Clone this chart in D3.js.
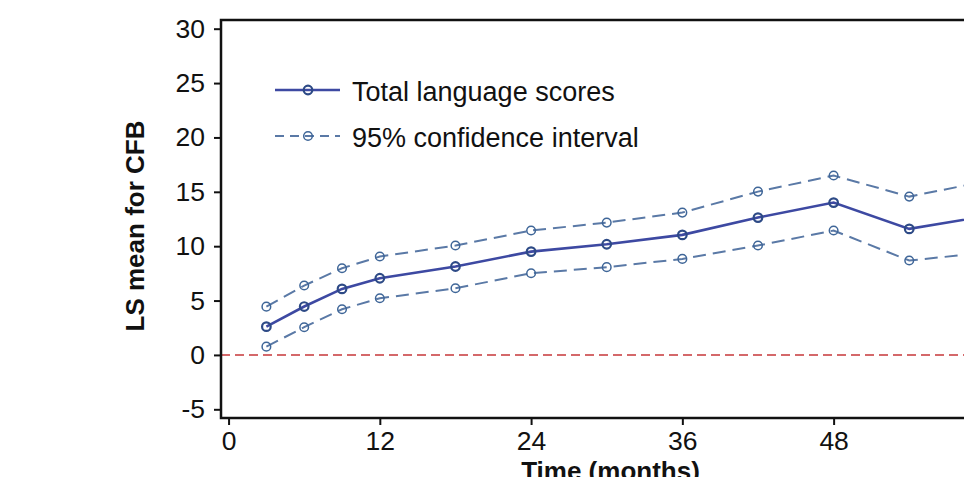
<!DOCTYPE html>
<html>
<head>
<meta charset="utf-8">
<script src="https://cdn.jsdelivr.net/npm/d3@7/dist/d3.min.js"></script>
<style>
  html, body { margin: 0; padding: 0; background: #fff; overflow: hidden; }
  svg { display: block; font-family: "Liberation Sans", Arial, sans-serif; }
</style>
</head>
<body>
<svg id="chart" width="964" height="477"></svg>
<script>
// Visit times (months) and LS mean change from baseline
const months = [3, 6, 9, 12, 18, 24, 30, 36, 42, 48, 54, 60];
const lsMean = [2.6, 4.45, 6.07, 7.05, 8.13, 9.5, 10.18, 11.04, 12.63, 14.01, 11.59, 12.75];
const ciUpper = [4.44, 6.38, 7.97, 9.05, 10.06, 11.44, 12.17, 13.09, 15.02, 16.5, 14.56, 15.95];
const ciLower = [0.76, 2.55, 4.2, 5.21, 6.13, 7.51, 8.07, 8.83, 10.06, 11.44, 8.68, 9.4];
const xTicks = [0, 12, 24, 36, 48, 60];
const yTicks = [-5, 0, 5, 10, 15, 20, 25, 30];
const legendLabels = ["Total language scores", "95% confidence interval"];

const svg = d3.select("#chart");
const plot = { left: 221, top: 20, right: 1000, bottom: 418 };

const x = d3.scaleLinear().domain([-0.6, 61.2]).range([plot.left, plot.right]);
const y = d3.scaleLinear().domain([-5.8, 30.8]).range([plot.bottom, plot.top]);

const mainColor = "#3d49a2";
const markerColor = "#2d4a86";
const ciColor = "#5a79a6";
const textColor = "#111";
const fontFamily = "'Liberation Sans', Arial, sans-serif";

// Zero reference line
svg.append("line")
  .attr("x1", plot.left).attr("x2", plot.right)
  .attr("y1", y(0)).attr("y2", y(0))
  .attr("stroke", "#d4686a").attr("stroke-width", 2)
  .attr("stroke-dasharray", "9,5");

const line = d3.line().x(d => x(d[0])).y(d => y(d[1]));

function series(values, opts) {
  const pts = months.map((m, i) => [m, values[i]]);
  svg.append("path")
    .datum(pts)
    .attr("d", line)
    .attr("fill", "none")
    .attr("stroke", opts.color)
    .attr("stroke-width", opts.width)
    .attr("stroke-dasharray", opts.dash || null);
  svg.append("g").selectAll("circle")
    .data(pts).join("circle")
    .attr("cx", d => x(d[0])).attr("cy", d => y(d[1]))
    .attr("r", opts.r)
    .attr("fill", "none")
    .attr("stroke", opts.markerColor)
    .attr("stroke-width", opts.markerWidth);
}

series(ciUpper, { color: ciColor, width: 2, dash: "13,7", r: 4.3, markerColor: "#3f6698", markerWidth: 1.5 });
series(ciLower, { color: ciColor, width: 2, dash: "13,7", r: 4.3, markerColor: "#3f6698", markerWidth: 1.5 });
series(lsMean, { color: mainColor, width: 2.6, r: 4.3, markerColor: markerColor, markerWidth: 2.2 });

// Axes (plain hyphen for negative numbers)
const fmt = d => String(d);
const yAxis = d3.axisLeft(y).tickValues(yTicks).tickFormat(fmt).tickSize(7).tickPadding(9);
const xAxis = d3.axisBottom(x).tickValues(xTicks).tickFormat(fmt).tickSize(7).tickPadding(6);

const gy = svg.append("g").attr("transform", `translate(${plot.left},0)`).call(yAxis);
const gx = svg.append("g").attr("transform", `translate(0,${plot.bottom})`).call(xAxis);
[gx, gy].forEach(g => {
  g.attr("font-size", null).attr("font-family", null);
  g.select(".domain").remove();
  g.selectAll(".tick line").attr("stroke", textColor).attr("stroke-width", 2);
  g.selectAll(".tick text").attr("fill", textColor)
    .style("font-size", "26.5px").style("font-family", fontFamily);
});

// Plot frame
svg.append("rect")
  .attr("x", plot.left).attr("y", plot.top)
  .attr("width", plot.right - plot.left).attr("height", plot.bottom - plot.top)
  .attr("fill", "none").attr("stroke", textColor).attr("stroke-width", 2.5);

// Axis titles
svg.append("text")
  .attr("transform", `translate(144,${(plot.top + plot.bottom) / 2 + 7}) rotate(-90)`)
  .attr("text-anchor", "middle")
  .attr("fill", textColor)
  .style("font-size", "26px").style("font-weight", "bold")
  .text("LS mean for CFB");

svg.append("text")
  .attr("x", (plot.left + plot.right) / 2)
  .attr("y", 480)
  .attr("text-anchor", "middle")
  .attr("fill", textColor)
  .style("font-size", "26px").style("font-weight", "bold")
  .text("Time (months)");

// Legend
const legend = svg.append("g");
const legendRows = [
  { label: legendLabels[0], y: 90, color: mainColor, width: 2.6, dash: null, mc: markerColor, mw: 2.2 },
  { label: legendLabels[1], y: 136, color: ciColor, width: 2, dash: "9,6", mc: "#3f6698", mw: 1.5 }
];
legendRows.forEach(r => {
  legend.append("line")
    .attr("x1", 275).attr("x2", 340).attr("y1", r.y).attr("y2", r.y)
    .attr("stroke", r.color).attr("stroke-width", r.width)
    .attr("stroke-dasharray", r.dash);
  legend.append("circle")
    .attr("cx", 308).attr("cy", r.y).attr("r", 4.3)
    .attr("fill", "none").attr("stroke", r.mc).attr("stroke-width", r.mw);
  legend.append("text")
    .attr("x", 352).attr("y", r.y + 11)
    .attr("fill", textColor)
    .style("font-size", "27px")
    .text(r.label);
});
</script>
</body>
</html>
